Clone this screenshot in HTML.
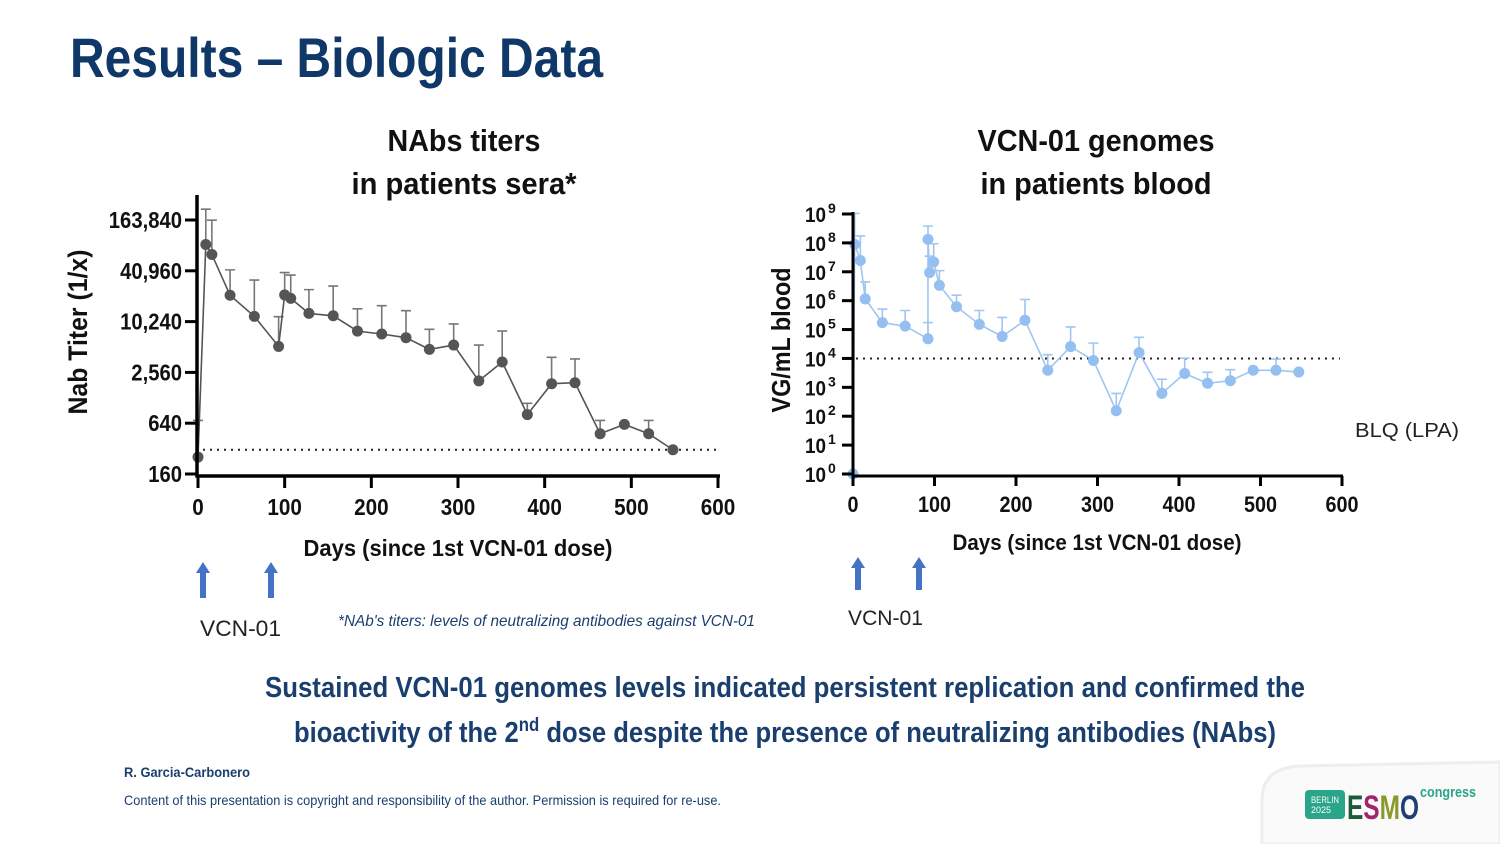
<!DOCTYPE html>
<html><head><meta charset="utf-8"><style>
html,body{margin:0;padding:0;background:#fff;}
svg{display:block;}
.c{font-family:"Liberation Sans Narrow","Liberation Sans",sans-serif;font-weight:bold;}
</style></head><body>
<svg id="page" width="1500" height="844" viewBox="0 0 1500 844" xmlns="http://www.w3.org/2000/svg">
<rect width="1500" height="844" fill="#fff"/>
<path d="M1262 844 L1262 800 Q1262 768 1300 766 L1500 762 L1500 844 Z" fill="#fafafa" stroke="#eee" stroke-width="3"/>
<text class="c" x="70" y="77" font-size="56" fill="#0f3768" textLength="533" lengthAdjust="spacingAndGlyphs">Results – Biologic Data</text>

<g id="left"></g>
<g id="right"></g>

<g fill="#4472c4">
<path d="M203 562 L210 573 L206 573 L206 598 L200 598 L200 573 L196 573 Z"/>
<path d="M271 562 L278 573 L274 573 L274 598 L268 598 L268 573 L264 573 Z"/>
<path d="M858 557 L865 568 L861 568 L861 590 L855 590 L855 568 L851 568 Z"/>
<path d="M919 557 L926 568 L922 568 L922 590 L916 590 L916 568 L912 568 Z"/>
</g>
<text x="200" y="636" font-family="Liberation Sans,sans-serif" font-size="22" fill="#222" textLength="81" lengthAdjust="spacingAndGlyphs">VCN-01</text>
<text x="848" y="625" font-family="Liberation Sans,sans-serif" font-size="21" fill="#222" textLength="75" lengthAdjust="spacingAndGlyphs">VCN-01</text>
<text x="338" y="626" font-family="Liberation Sans Narrow,Liberation Sans,sans-serif" font-style="italic" font-size="16" fill="#1a3f6f" textLength="417" lengthAdjust="spacingAndGlyphs">*NAb's titers: levels of neutralizing antibodies against VCN-01</text>

<text class="c" x="785" y="697" text-anchor="middle" font-size="29" fill="#1a3f6f" textLength="1040" lengthAdjust="spacingAndGlyphs">Sustained VCN-01 genomes levels indicated persistent replication and  confirmed the</text>
<text class="c" x="785" y="742" text-anchor="middle" font-size="29" fill="#1a3f6f" textLength="982" lengthAdjust="spacingAndGlyphs">bioactivity of the 2<tspan dy="-11" font-size="19">nd</tspan><tspan dy="11"> dose despite the presence of neutralizing antibodies (NAbs)</tspan></text>

<text x="124" y="777" font-family="Liberation Sans Narrow,Liberation Sans,sans-serif" font-weight="bold" font-size="14" fill="#1a3f6f" textLength="126" lengthAdjust="spacingAndGlyphs">R. Garcia-Carbonero</text>
<text x="124" y="805" font-family="Liberation Sans Narrow,Liberation Sans,sans-serif" font-size="14" fill="#1a3f6f" textLength="597" lengthAdjust="spacingAndGlyphs">Content of this presentation is copyright and responsibility of the author. Permission is required for re-use.</text>

<g>
<rect x="1305" y="790" width="40" height="29" rx="4" fill="#2aa58a"/>
<text x="1311" y="803" font-family="Liberation Sans,sans-serif" font-size="9" fill="#fff" textLength="28" lengthAdjust="spacingAndGlyphs">BERLIN</text>
<text x="1311" y="813" font-family="Liberation Sans,sans-serif" font-size="9" fill="#fff">2025</text>
<text x="1347" y="819" class="c" font-size="34" fill="#1d5a3a" textLength="72" lengthAdjust="spacingAndGlyphs">E<tspan fill="#a0256d">S</tspan><tspan fill="#8a9a2a">M</tspan><tspan fill="#1f3f74">O</tspan></text>
<text x="1420" y="797" class="c" font-size="15" fill="#2aa58a" textLength="56" lengthAdjust="spacingAndGlyphs">congress</text>
</g>
</svg>
<script>
// ---------- Left chart data ----------
const nabDays = [0,9,16,37,65,93,100,107,128,156,184,212,240,267,295,324,351,380,408,435,464,492,520,548];
const nabTiter = [254,84000,64000,21000,11800,5200,21200,19300,12800,12000,7900,7300,6600,4800,5400,2030,3400,810,1880,1930,480,620,480,310];
const nabUpper = [690,220000,163000,42000,31800,11700,39000,36500,24500,27000,14500,15800,13800,8300,9600,5400,7900,1100,3860,3700,690,null,690,null];
const nabXTicks = [0,100,200,300,400,500,600];
const nabYTicks = [160,640,2560,10240,40960,163840];
const nabYLabels = ["160","640","2,560","10,240","40,960","163,840"];
const nabLimit = 310;

// ---------- Right chart data ----------
const vgDays = [0,2,9,15,36,64,92,92,94,99,106,127,155,183,211,239,267,295,323,351,379,407,435,463,491,519,547];
const vgLog = [0,7.95,7.39,6.06,5.24,5.12,4.68,8.12,6.97,7.34,6.53,5.79,5.18,4.76,5.32,3.59,4.41,3.93,2.19,4.20,2.79,3.48,3.14,3.23,3.59,3.59,3.53];
const vgUpperLog = [null,9.02,8.24,6.65,5.71,5.66,5.24,8.58,7.54,7.97,7.04,6.19,5.66,5.42,6.04,4.13,5.09,4.53,2.79,4.73,3.28,4.01,3.52,3.61,null,3.98,null];
const vgXTicks = [0,100,200,300,400,500,600];
const vgYTicks = [0,1,2,3,4,5,6,7,8,9];
const vgLimitLog = 4;

const NS = "http://www.w3.org/2000/svg";
function mk(parent, tag, attrs){
  const e = document.createElementNS(NS, tag);
  for (const k in attrs) e.setAttribute(k, attrs[k]);
  parent.appendChild(e);
  return e;
}
function txt(parent, x, y, s, attrs, squeeze){
  const t = mk(parent, "text", Object.assign({x:x, y:y}, attrs));
  t.textContent = s;
  if (squeeze) {
    const w = t.getComputedTextLength();
    t.setAttribute("textLength", (w*squeeze).toFixed(1));
    t.setAttribute("lengthAdjust", "spacingAndGlyphs");
  }
  return t;
}
function fitW(t, w){ t.setAttribute("textLength", w); t.setAttribute("lengthAdjust","spacingAndGlyphs"); }

// ===== Left =====
(function(){
  const g = document.getElementById("left");
  const x0=198, x1=718, yTop=220, yBot=474;
  const xs = d => x0 + (d/600)*(x1-x0);
  const ys = v => yBot - (Math.log(v/160)/Math.log(163840/160))*(yBot-yTop);
  const f = {"font-family":"Liberation Sans Narrow,Liberation Sans,sans-serif","font-weight":"bold"};
  let t;
  t = txt(g, 464, 151, "NAbs titers", Object.assign({"text-anchor":"middle","font-size":31,fill:"#111"}, f));
  fitW(t, 153);
  
  
  t = txt(g, 464, 194, "in patients sera*", Object.assign({"text-anchor":"middle","font-size":31,fill:"#111"}, f));
  fitW(t, 225);
  
  
  const lim = mk(g, "line", {x1:203, x2:718, y1:ys(nabLimit), y2:ys(nabLimit), stroke:"#222", "stroke-width":2, "stroke-dasharray":"2 5"});
  
  
  nabDays.forEach((d,i)=>{
    if (nabUpper[i]==null) return;
    const x=xs(d), y=ys(nabTiter[i]), yu=ys(nabUpper[i]);
    const e = mk(g, "path", {d:`M${x} ${y} L${x} ${yu} M${x-5} ${yu} L${x+5} ${yu}`, stroke:"#777", "stroke-width":1.6, fill:"none"});
    
    
  });
  const line = mk(g, "polyline", {points: nabDays.map((d,i)=>xs(d)+","+ys(nabTiter[i])).join(" "), fill:"none", stroke:"#555", "stroke-width":1.6});
  
  
  nabDays.forEach((d,i)=>{
    const c = mk(g, "circle", {cx:xs(d), cy:ys(nabTiter[i]), r:5.5, fill:"#555"});
    
    
  });
  const ax = mk(g, "path", {d:`M197 195 L197 476 L720 476`, stroke:"#000", "stroke-width":3.5, fill:"none"});
  
  
  nabYTicks.forEach((v,i)=>{
    const y = ys(v);
    const tk = mk(g, "line", {x1:185, x2:197, y1:y, y2:y, stroke:"#000", "stroke-width":3});
    
    
    const lb = txt(g, 182, y+8, nabYLabels[i], Object.assign({"text-anchor":"end","font-size":23,fill:"#111"}, f), 0.88);
    
    
  });
  nabXTicks.forEach(d=>{
    const x = xs(d);
    const tk = mk(g, "line", {x1:x, x2:x, y1:476, y2:488, stroke:"#000", "stroke-width":3});
    
    
    const lb = txt(g, x, 515, String(d), Object.assign({"text-anchor":"middle","font-size":23,fill:"#111"}, f), 0.9);
    
    
  });
  t = txt(g, 458, 556, "Days (since 1st VCN-01 dose)", Object.assign({"text-anchor":"middle","font-size":23,fill:"#111"}, f));
  fitW(t, 309);
  
  
  t = txt(g, 0, 0, "Nab Titer (1/x)", Object.assign({"text-anchor":"middle","font-size":27,fill:"#111",transform:"translate(87 332) rotate(-90)"}, f));
  fitW(t, 165);
  
  
})();

// ===== Right =====
(function(){
  const g = document.getElementById("right");
  const x0=853, x1=1342, yTop=214, yBot=474;
  const xs = d => x0 + (d/600)*(x1-x0);
  const ys = l => yBot - (l/9)*(yBot-yTop);
  const f = {"font-family":"Liberation Sans Narrow,Liberation Sans,sans-serif","font-weight":"bold"};
  let t;
  t = txt(g, 1096, 151, "VCN-01 genomes", Object.assign({"text-anchor":"middle","font-size":31,fill:"#111"}, f));
  fitW(t, 237);
  
  
  t = txt(g, 1096, 194, "in patients blood", Object.assign({"text-anchor":"middle","font-size":31,fill:"#111"}, f));
  fitW(t, 231);
  
  
  const lim = mk(g, "line", {x1:856, x2:1340, y1:ys(vgLimitLog), y2:ys(vgLimitLog), stroke:"#222", "stroke-width":2, "stroke-dasharray":"2 5"});
  
  
  vgDays.forEach((d,i)=>{
    if (vgUpperLog[i]==null) return;
    const x=xs(d), y=ys(vgLog[i]), yu=ys(vgUpperLog[i]);
    const e = mk(g, "path", {d:`M${x} ${y} L${x} ${yu} M${x-5} ${yu} L${x+5} ${yu}`, stroke:"#9fc5f0", "stroke-width":1.6, fill:"none"});
    
    
  });
  const line = mk(g, "polyline", {points: vgDays.map((d,i)=>xs(d)+","+ys(vgLog[i])).join(" "), fill:"none", stroke:"#9fc5f0", "stroke-width":1.6});
  
  
  vgDays.forEach((d,i)=>{
    const c = mk(g, "circle", {cx:xs(d), cy:ys(vgLog[i]), r:5.5, fill:"#94bff0"});
    
    
  });
  const ax = mk(g, "path", {d:`M853 212 L853 476 L1343 476`, stroke:"#000", "stroke-width":3, fill:"none"});
  
  
  vgYTicks.forEach(l=>{
    const y = ys(l);
    const tk = mk(g, "line", {x1:842, x2:853, y1:y, y2:y, stroke:"#000", "stroke-width":3});
    
    
    const lb = txt(g, 826, y+8, "10", Object.assign({"text-anchor":"end","font-size":21,fill:"#111"}, f), 0.9);
    
    
    const sp = txt(g, 828, y-1, String(l), Object.assign({"font-size":14,fill:"#111"}, f));
    
    
  });
  vgXTicks.forEach(d=>{
    const x = xs(d);
    const tk = mk(g, "line", {x1:x, x2:x, y1:476, y2:486, stroke:"#000", "stroke-width":3});
    
    
    const lb = txt(g, x, 512, String(d), Object.assign({"text-anchor":"middle","font-size":22,fill:"#111"}, f), 0.9);
    
    
  });
  t = txt(g, 1097, 550, "Days (since 1st VCN-01 dose)", Object.assign({"text-anchor":"middle","font-size":22,fill:"#111"}, f));
  fitW(t, 289);
  
  
  t = txt(g, 0, 0, "VG/mL blood", Object.assign({"text-anchor":"middle","font-size":26,fill:"#111",transform:"translate(790 340) rotate(-90)"}, f));
  fitW(t, 145);
  
  
  t = txt(g, 1355, 437, "BLQ (LPA)", {"font-family":"Liberation Sans,sans-serif","font-size":20,fill:"#222"});
  fitW(t, 104);
  
  
})();
</script>
</body></html>
